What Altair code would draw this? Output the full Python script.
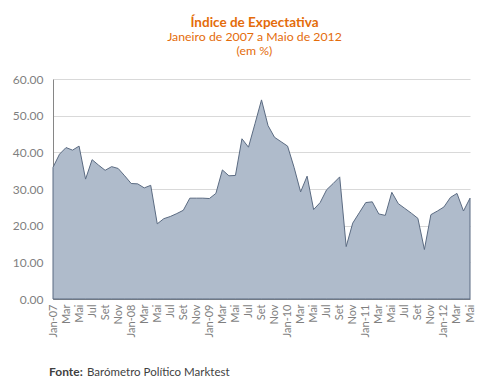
import json
import altair as alt
import pandas as pd

# Monthly values, Jan 2007 .. May 2012 (65 months)
values = [
    35.9, 39.5, 41.3, 40.6, 41.7, 32.7, 38.0, 36.5, 35.1, 36.1, 35.6, 33.6,   # 2007
    31.5, 31.4, 30.3, 31.0, 20.5, 21.9, 22.5, 23.3, 24.2, 27.5, 27.5, 27.5,   # 2008
    27.4, 28.8, 35.2, 33.6, 33.7, 43.7, 41.4, 47.8, 54.3, 47.3, 44.1, 42.9,   # 2009
    41.7, 35.9, 29.2, 33.5, 24.4, 26.3, 29.8, 31.5, 33.3, 14.3, 20.7, 23.5,   # 2010
    26.3, 26.5, 23.2, 22.8, 29.1, 26.0, 24.7, 23.4, 22.0, 13.5, 23.0, 24.0,   # 2011
    25.1, 27.7, 28.8, 24.0, 27.5,                                             # 2012
]
months_pt = ["Jan", "Fev", "Mar", "Abr", "Mai", "Jun", "Jul", "Ago", "Set", "Out", "Nov", "Dez"]
month_labels = [
    (m + "-" + str(y)[2:]) for y in range(2007, 2013) for m in months_pt
][: len(values)]

tick_labels = []
for i in range(0, len(values), 2):
    m, yy = month_labels[i].split("-")
    tick_labels.append(month_labels[i] if m == "Jan" else m)

df = pd.DataFrame({"idx": list(range(len(values))), "mes": month_labels, "valor": values})

FONT = "Lato"
AXIS_GRAY = "#7F7F7F"
ORANGE = "#E46C0A"

label_expr = json.dumps(tick_labels) + "[round(datum.value / 2)]"

area = alt.Chart(df).mark_area(
    color="#AFBBCB", stroke="#5B6B82", strokeWidth=1, opacity=1, fillOpacity=1
).encode(
    x=alt.X(
        "idx:Q",
        scale=alt.Scale(domain=[0, len(values) - 1], nice=False, zero=False),
        axis=alt.Axis(
            values=list(range(0, len(values), 2)),
            labelExpr=label_expr,
            labelAngle=-90,
            ticks=False,
            grid=False,
            title=None,
            domainColor="#868686",
            labelColor=AXIS_GRAY,
            labelFont=FONT,
            labelFontSize=11,
            labelPadding=5,
        ),
    ),
    y=alt.Y(
        "valor:Q",
        scale=alt.Scale(domain=[0, 60], nice=False),
        axis=alt.Axis(
            values=[0, 10, 20, 30, 40, 50, 60],
            format=".2f",
            ticks=False,
            grid=True,
            gridColor="#D9D9D9",
            title=None,
            domainColor="#868686",
            labelColor=AXIS_GRAY,
            labelFont=FONT,
            labelFontSize=12,
            labelPadding=10,
        ),
    ),
)

fonte = alt.Chart(pd.DataFrame({"t": ["Fonte:"]})).mark_text(
    align="left", baseline="alphabetic", font=FONT, fontSize=12,
    fontWeight="bold", color="#3F3F3F"
).encode(text="t:N", x=alt.value(-4), y=alt.value(297))

fonte2 = alt.Chart(pd.DataFrame({"t": ["Barómetro Político Marktest"]})).mark_text(
    align="left", baseline="alphabetic", font=FONT, fontSize=11.5,
    color="#3F3F3F"
).encode(text="t:N", x=alt.value(34), y=alt.value(297))

chart = alt.layer(area, fonte, fonte2).properties(
    width=417,
    height=220,
    padding={"left": 45, "top": 71, "right": 7, "bottom": 79},
    autosize=alt.AutoSizeParams(type="none"),
    title=alt.TitleParams(
        text="Índice de Expectativa",
        subtitle=["Janeiro de 2007 a Maio de 2012", "(em %)"],
        anchor="middle",
        dx=-7,
        offset=16,
        font=FONT,
        fontSize=13.5,
        fontWeight="bold",
        color=ORANGE,
        subtitleFont=FONT,
        subtitleFontSize=12.3,
        subtitleFontWeight="normal",
        subtitleColor=ORANGE,
        subtitleLineHeight=13.5,
        subtitlePadding=2,
    ),
).configure_view(stroke=None)

chart.save("out.html", embed_options={"renderer": "svg", "actions": False})
